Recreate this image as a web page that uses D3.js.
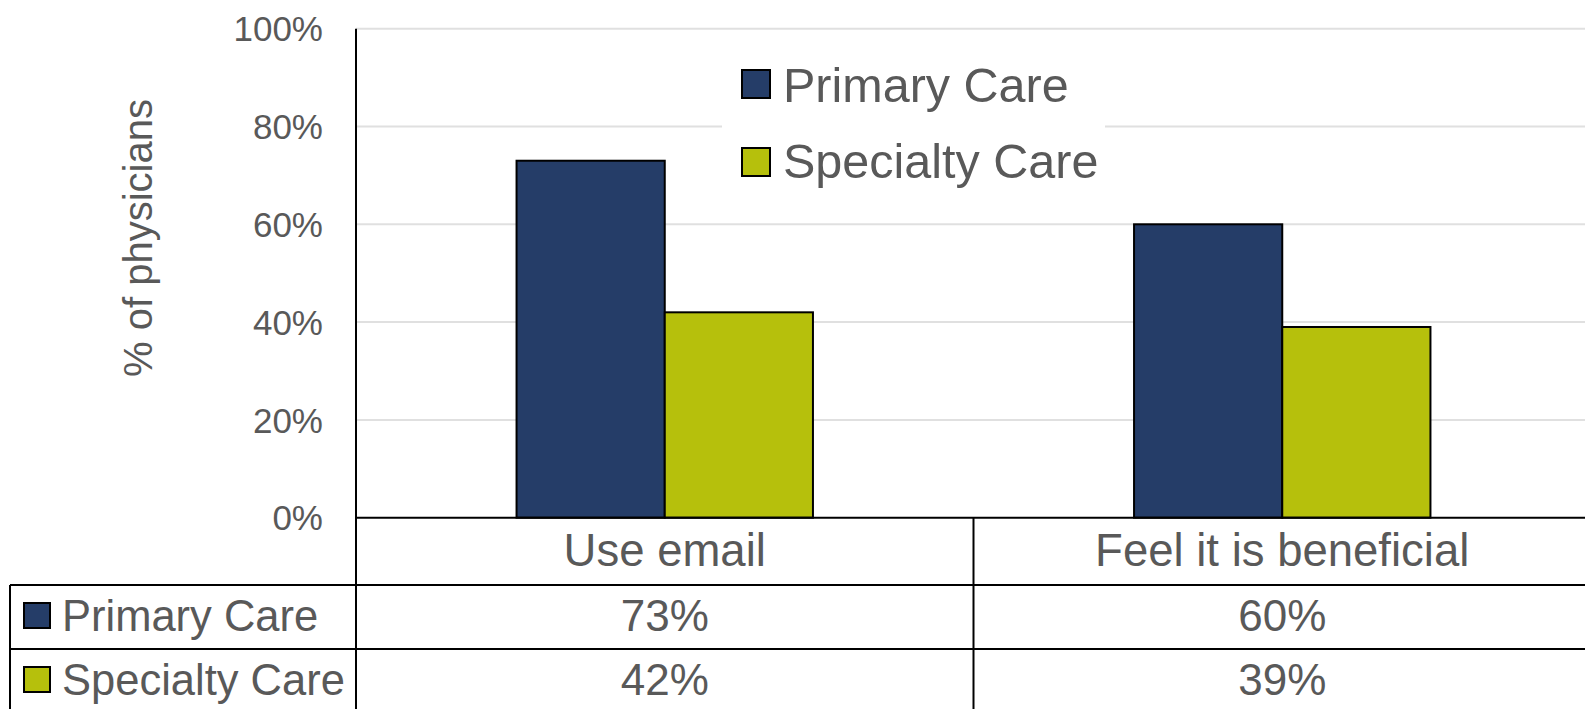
<!DOCTYPE html>
<html>
<head>
<meta charset="utf-8">
<script src="https://cdn.jsdelivr.net/npm/d3@7"></script>
<style>
  html, body { margin: 0; padding: 0; background: #fff; }
  svg { display: block; font-family: "Liberation Sans", Arial, sans-serif; }
</style>
</head>
<body>
<svg id="chart" width="1585" height="709"></svg>
<script>
const categories = ["Use email", "Feel it is beneficial"];
const seriesNames = ["Primary Care", "Specialty Care"];
const primaryCare = [0.73, 0.60];
const specialtyCare = [0.42, 0.39];
const seriesValues = [primaryCare, specialtyCare];
const seriesColors = ["#253D68", "#B6C00C"];
const yTicks = [0, 0.2, 0.4, 0.6, 0.8, 1.0];
const yTitle = "% of physicians";

(function () {
const svg = d3.select("#chart");
const W = 1585, H = 709;
const pLeft = 356, pRight = 1591, pTop = 28.7, pBottom = 517.7;
const textColor = "#595959";

const x0 = d3.scaleBand().domain(categories).range([pLeft, pRight])
  .paddingInner(0.52).paddingOuter(0.26);
const step = x0.step();
const x1 = d3.scaleBand().domain(seriesNames).range([0, x0.bandwidth()]);
const y = d3.scaleLinear().domain([0, 1]).range([pBottom, pTop]);
const fmt = d3.format(".0%");

// gridlines
svg.append("g").selectAll("line").data(yTicks.filter(d => d > 0)).join("line")
  .attr("x1", pLeft).attr("x2", W)
  .attr("y1", d => y(d)).attr("y2", d => y(d))
  .attr("stroke", "#e0e0e0").attr("stroke-width", 2);

// y tick labels
svg.append("g").selectAll("text").data(yTicks).join("text")
  .attr("x", 323).attr("y", d => y(d)).attr("dy", "0.36em")
  .attr("text-anchor", "end").attr("fill", textColor)
  .style("font-size", "35px").text(d => fmt(d));

// y title
svg.append("text")
  .attr("transform", `translate(152,238) rotate(-90)`)
  .attr("text-anchor", "middle").attr("fill", textColor)
  .style("font-size", "40px").text(yTitle);

// bars
const groups = svg.append("g").selectAll("g").data(categories).join("g")
  .attr("transform", d => `translate(${x0(d)},0)`);
groups.selectAll("rect").data((d, i) => seriesNames.map((s, j) => ({s, v: seriesValues[j][i], j})))
  .join("rect")
  .attr("x", d => x1(d.s)).attr("width", x1.bandwidth())
  .attr("y", d => y(d.v)).attr("height", d => y(0) - y(d.v))
  .attr("fill", d => seriesColors[d.j])
  .attr("stroke", "#000").attr("stroke-width", 2);

// legend
const lg = svg.append("g");
lg.append("rect").attr("x", 722).attr("y", 50).attr("width", 383).attr("height", 150).attr("fill", "#fff");
const legY = [[70, 101.7], [148, 178]];
seriesNames.forEach((s, i) => {
  lg.append("rect").attr("x", 742).attr("y", legY[i][0]).attr("width", 28).attr("height", 28)
    .attr("fill", seriesColors[i]).attr("stroke", "#000").attr("stroke-width", 2);
  lg.append("text").attr("x", 783).attr("y", legY[i][1]).attr("fill", textColor)
    .style("font-size", "48.5px").text(s);
});

// table / axis lines
const lines = svg.append("g").attr("stroke", "#000").attr("stroke-width", 2);
const rowTop = 585, rowMid = 649;
lines.append("line").attr("x1", pLeft).attr("x2", W).attr("y1", pBottom).attr("y2", pBottom);
lines.append("line").attr("x1", 10).attr("x2", W).attr("y1", rowTop).attr("y2", rowTop);
lines.append("line").attr("x1", 10).attr("x2", W).attr("y1", rowMid).attr("y2", rowMid);
lines.append("line").attr("x1", pLeft).attr("x2", pLeft).attr("y1", pTop).attr("y2", H);
lines.append("line").attr("x1", 10).attr("x2", 10).attr("y1", rowTop).attr("y2", H);
categories.slice(1).forEach(c => {
  const xb = x0(c) - (step - x0.bandwidth()) / 2;
  lines.append("line").attr("x1", xb).attr("x2", xb).attr("y1", pBottom).attr("y2", H);
});

// category labels
svg.append("g").selectAll("text").data(categories).join("text")
  .attr("x", d => x0(d) + x0.bandwidth() / 2).attr("y", 566)
  .attr("text-anchor", "middle").attr("fill", textColor)
  .style("font-size", "45.5px").text(d => d);

// table rows
const rowBase = [630.5, 694.5];
const swY = [603, 667];
seriesNames.forEach((s, i) => {
  svg.append("rect").attr("x", 24).attr("y", swY[i]).attr("width", 26).attr("height", 25)
    .attr("fill", seriesColors[i]).attr("stroke", "#000").attr("stroke-width", 2);
  svg.append("text").attr("x", 62).attr("y", rowBase[i]).attr("fill", textColor)
    .style("font-size", "43.5px").text(s);
  svg.append("g").selectAll("text").data(categories).join("text")
    .attr("x", d => x0(d) + x0.bandwidth() / 2).attr("y", rowBase[i])
    .attr("text-anchor", "middle").attr("fill", textColor)
    .style("font-size", "44px").text((d, k) => fmt(seriesValues[i][k]));
});
})();
</script>
</body>
</html>
